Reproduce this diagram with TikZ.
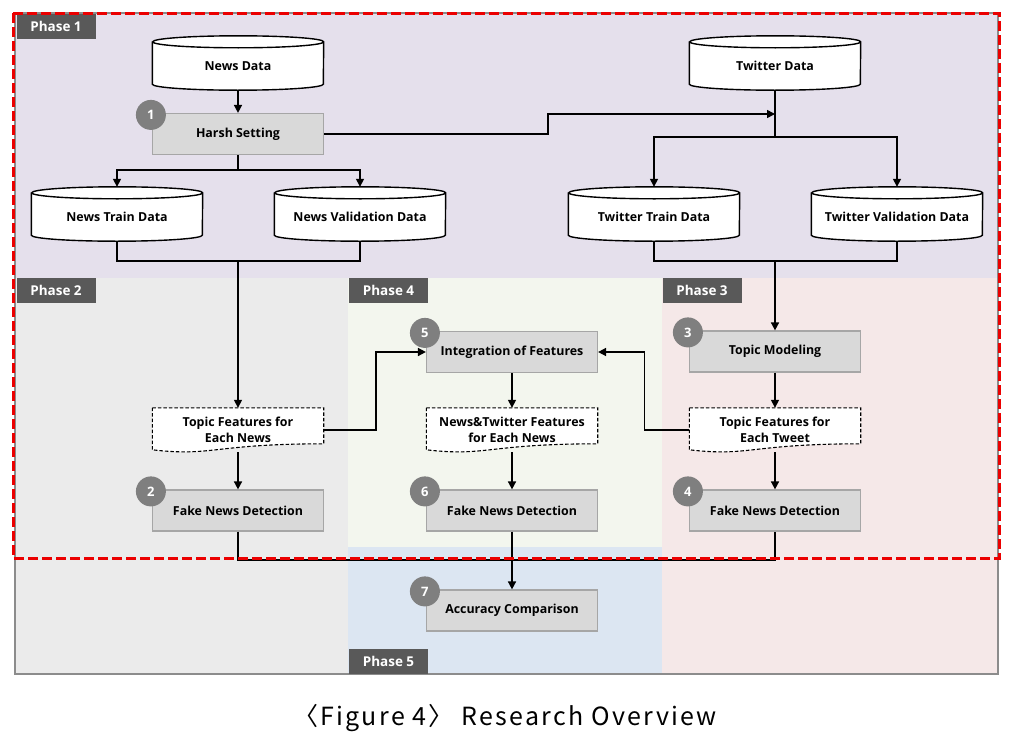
\documentclass[tikz,border=0pt]{standalone}
\usepackage{fontspec}
\setmainfont{Open Sans}
\newfontfamily\capfont{Noto Sans CJK KR}[LetterSpace=9.0]
\usetikzlibrary{arrows.meta,calc}
\pgfdeclarelayer{back}
\pgfdeclarelayer{mid}
\pgfsetlayers{back,mid,main}

\definecolor{phaseA}{RGB}{229,224,236}
\definecolor{phaseB}{RGB}{235,235,235}
\definecolor{phaseC}{RGB}{245,232,232}
\definecolor{phaseD}{RGB}{243,246,238}
\definecolor{phaseE}{RGB}{220,230,242}
\definecolor{tagbg}{RGB}{89,89,89}
\definecolor{procfill}{RGB}{217,217,217}
\definecolor{procline}{RGB}{166,166,166}
\definecolor{numfill}{RGB}{127,127,127}
\definecolor{framegray}{RGB}{140,140,140}
\definecolor{dashred}{RGB}{235,0,0}

\begin{document}
\begin{tikzpicture}[x=1pt,y=-1pt,
 txt/.style={font=\fontsize{12.4}{16}\selectfont\bfseries, align=center},
 proc/.style={txt, draw=procline, line width=1.2pt, fill=procfill, minimum width=171pt, minimum height=41pt, inner sep=0pt},
 cylnode/.style={txt, minimum width=171pt, minimum height=48pt, inner sep=0pt},
 docnode/.style={txt, minimum width=171pt, minimum height=44pt, inner sep=0pt},
 tag/.style={fill=tagbg, text=white, font=\fontsize{13.5}{16}\selectfont\bfseries, minimum width=79pt, minimum height=25pt, inner sep=0pt},
 num/.style={circle, fill=numfill, text=white, font=\fontsize{13}{15}\selectfont\bfseries, minimum size=30pt, inner sep=0pt},
 link/.style={line width=1.6pt},
 arr/.style={link, -{Triangle[length=8pt,width=8pt]}},
 cylline/.style={draw=black, line width=1.4pt},
 docline/.style={draw=black, line width=1.1pt, dash pattern=on 3.5pt off 2pt},
]
\useasboundingbox (0,0) rectangle (1020,736);
\begin{pgfonlayer}{back}
\fill[white] (0,0) rectangle (1020,736);
\fill[phaseA] (15,13) rectangle (998,278);
\fill[phaseB] (15,278) rectangle (348,674);
\fill[phaseD] (348,278) rectangle (662,547);
\fill[phaseE] (348,547) rectangle (662,674);
\fill[phaseC] (662,278) rectangle (998,674);
\draw[framegray, line width=2.5pt] (15,13) rectangle (998,674);
\end{pgfonlayer}

% phase tags
\node[tag] (t1) at (56,26.5) {Phase 1};
\node[tag] (t2) at (56,290) {Phase 2};
\node[tag] (t4) at (388.5,290) {Phase 4};
\node[tag] (t3) at (702,290) {Phase 3};
\node[tag] (t5) at (388.5,661.5) {Phase 5};

% cylinders
\node[cylnode] (nd) at (238,66) {News Data};
\node[cylnode] (td) at (775,66) {Twitter Data};
\node[cylnode] (ntr) at (117,217) {News Train Data};
\node[cylnode] (nva) at (360,217) {News Validation Data};
\node[cylnode] (ttr) at (654,217) {Twitter Train Data};
\node[cylnode] (tva) at (897,217) {Twitter Validation Data};
\begin{pgfonlayer}{mid}
\foreach \n in {nd,td,ntr,nva,ttr,tva}{
  \path[fill=white] (\n.north west) -- ($(\n.south west)+(0,-6)$)
     arc[start angle=180,end angle=360,x radius=85.5pt,y radius=6pt]
     -- (\n.north east)
     arc[start angle=0,end angle=180,x radius=85.5pt,y radius=6pt] -- cycle;
  \draw[cylline] (\n.north west) -- ($(\n.south west)+(0,-6)$)
     arc[start angle=180,end angle=360,x radius=85.5pt,y radius=6pt]
     -- (\n.north east)
     arc[start angle=0,end angle=360,x radius=85.5pt,y radius=6pt];
}
\end{pgfonlayer}
\foreach \n in {nd,td,ntr,nva,ttr,tva}{
  \coordinate (\n-top) at ($(\n.north)+(0,-6)$);
}

% process boxes
\node[proc] (hs) at (238,134) {Harsh Setting};
\node[proc] (tm) at (775,351.5) {Topic Modeling};
\node[proc] (integ) at (512,352) {Integration of Features};
\node[proc] (fnd2) at (238,510.5) {Fake News Detection};
\node[proc] (fnd6) at (512,510.5) {Fake News Detection};
\node[proc] (fnd4) at (775,510.5) {Fake News Detection};
\node[proc] (acc) at (512,610.5) {Accuracy Comparison};

% documents
\node[docnode] (tfn) at (238,430) {Topic Features for\\Each News};
\node[docnode] (ntf) at (512,430) {News\&Twitter Features\\for Each News};
\node[docnode] (tft) at (775,430) {Topic Features for\\Each Tweet};
\begin{pgfonlayer}{mid}
\foreach \n in {tfn,ntf,tft}{
  \path[fill=white] (\n.north west) -- (\n.north east) -- ($(\n.north east)+(0,36)$)
    .. controls ($(\n.north east)+(-110,36)$) and ($(\n.north west)+(60,49)$) .. ($(\n.north west)+(0,42)$) -- cycle;
  \draw[docline] (\n.north west) -- (\n.north east) -- ($(\n.north east)+(0,36)$)
    .. controls ($(\n.north east)+(-110,36)$) and ($(\n.north west)+(60,49)$) .. ($(\n.north west)+(0,42)$) -- cycle;
}
\end{pgfonlayer}

% number circles
\node[num] (c1) at ($(hs.north west)+(-1,2)$) {1};
\node[num] (c2) at ($(fnd2.north west)+(-1,2)$) {2};
\node[num] (c3) at ($(tm.north west)+(-1,2)$) {3};
\node[num] (c4) at ($(fnd4.north west)+(-1,2)$) {4};
\node[num] (c5) at ($(integ.north west)+(-1,2)$) {5};
\node[num] (c6) at ($(fnd6.north west)+(-1,2)$) {6};
\node[num] (c7) at ($(acc.north west)+(-1,2)$) {7};

% connectors phase 1
\draw[arr] (nd.south) -- (hs.north);
\coordinate (hsj) at (238,170);
\draw[link] (hs.south) -- (hsj);
\draw[arr] (hsj) -| (ntr-top);
\draw[arr] (hsj) -| (nva-top);
\coordinate (hsk1) at (548,134);
\coordinate (hsk2) at (548,114);
\coordinate (tdj) at (775,114);
\draw[arr] (hs.east) -- (hsk1) -- (hsk2) -- (tdj);
\coordinate (tdk) at (775,137);
\draw[link] (td.south) -- (tdk);
\draw[arr] (tdk) -| (ttr-top);
\draw[arr] (tdk) -| (tva-top);
\coordinate (nj) at (238,261);
\coordinate (tj) at (775,261);
\draw[link] (ntr.south) |- (nj) -| (nva.south);
\draw[link] (ttr.south) |- (tj) -| (tva.south);
\draw[arr] (nj) -- (tfn.north);
\draw[arr] (tj) -- (tm.north);

% phases 2-4
\draw[arr] (tfn.east) -- ++(52,0) |- (integ.west);
\draw[arr] (tft.west) -- ++(-45,0) |- (integ.east);
\draw[arr] (tm.south) -- (tft.north);
\draw[arr] (integ.south) -- (ntf.north);
\draw[arr] (tfn.south) -- (fnd2.north);
\draw[arr] (ntf.south) -- (fnd6.north);
\draw[arr] (tft.south) -- (fnd4.north);
\coordinate (fj) at (512,560);
\draw[link] (fnd2.south) |- (fj) -| (fnd4.south);
\draw[arr] (fnd6.south) -- (acc.north);

% red dashed frame
\draw[dashred, line width=3pt, dash pattern=on 10pt off 4pt] (13,13) rectangle (999,558);

% caption
\node[font=\capfont\fontsize{25}{28}\selectfont] (cap) at (505,718) {〈Figure 4〉 Research Overview};
\end{tikzpicture}
\end{document}
